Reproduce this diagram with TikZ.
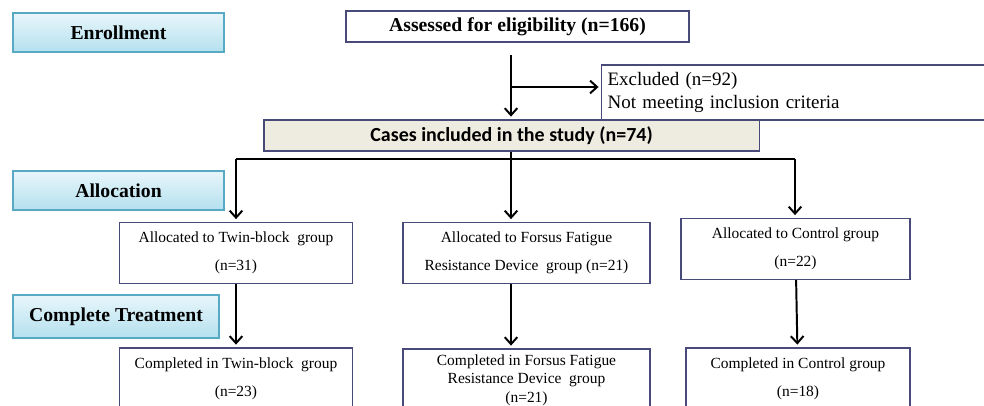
\documentclass[tikz,border=0pt]{standalone}
\usepackage{fontspec}
\setmainfont{Liberation Serif}
\newfontfamily\casesfont{Carlito}
\usepackage{tikz}
\usetikzlibrary{positioning, arrows.meta, shadows}
\usepackage{xcolor}
\definecolor{boxline}{RGB}{72,74,122}
\definecolor{phaseline}{RGB}{88,170,196}
\definecolor{phasetop}{RGB}{232,246,251}
\definecolor{phasebot}{RGB}{180,224,238}
\definecolor{casesfill}{RGB}{238,235,224}

\begin{document}
\begin{tikzpicture}[x=0.025cm, y=-0.025cm,
  phase/.style={draw=phaseline, line width=0.8pt, top color=phasetop, bottom color=phasebot,
    drop shadow={opacity=0.2, shadow xshift=0.8pt, shadow yshift=-0.8pt},
    font=\fontsize{14}{16}\selectfont\bfseries, inner sep=0pt},
  box/.style={draw=boxline, line width=0.8pt, fill=white, align=center, inner sep=2pt,
    font=\fontsize{11}{20}\selectfont},
  arr/.style={-{Straight Barb[length=5pt,width=9pt]}, line width=1.4pt, shorten >=2pt}]
\useasboundingbox (0,0) rectangle (984,406);
% phase labels
\node[phase, minimum width=5.275cm, minimum height=0.975cm] (enroll) at (118.5,32.5) {Enrollment};
\node[phase, minimum width=5.275cm, minimum height=0.975cm] (alloclab) at (118.5,190.5) {Allocation};
\node[phase, minimum width=5.15cm, minimum height=1.075cm] (complab) at (116,316.5) {Complete Treatment};
% enrollment
\node[box, font=\fontsize{14}{16}\selectfont\bfseries, minimum width=8.575cm, minimum height=0.775cm] (assess) at (517.5,26.5) {Assessed for eligibility (n=166)};
\node[box, align=left, inner xsep=4pt, text width=9.42cm, minimum height=1.375cm, font=\fontsize{13.5}{17}\selectfont] (excl) at (796,92.5) {Excluded (n=92)\\Not meeting inclusion criteria};
\node[box, fill=casesfill, font=\fontsize{14.2}{16}\casesfont\bfseries, minimum width=12.375cm, minimum height=0.775cm] (cases) at (511.5,135.5) {Cases included in the study (n=74)};
% allocation
\node[box, minimum width=5.825cm, minimum height=1.525cm] (alloc1) at (236,253) {Allocated to Twin-block~ group\\(n=31)};
\node[box, minimum width=6.175cm, minimum height=1.525cm] (alloc2) at (526.5,253) {Allocated to Forsus Fatigue\\Resistance Device~ group (n=21)};
\node[box, minimum width=5.725cm, minimum height=1.525cm] (alloc3) at (795.5,249) {Allocated to Control group\\(n=22)};
% complete treatment
\node[box, minimum width=5.825cm, minimum height=1.55cm] (comp1) at (236,379) {Completed in Twin-block~ group\\(n=23)};
\node[box, minimum width=6.175cm, minimum height=1.55cm, font=\fontsize{11}{13}\selectfont] (comp2) at (526.5,380) {Completed in Forsus Fatigue\\Resistance Device~ group\\(n=21)};
\node[box, minimum width=5.6cm, minimum height=1.55cm] (comp3) at (798,379) {Completed in Control group\\(n=18)};
% connectors
\coordinate (trunk) at (511,55);
\coordinate (split) at (511,87);
\coordinate (barL) at (236,159);
\coordinate (barM) at (511,159);
\coordinate (barR) at (795,159);
\draw[arr] (trunk) -- (cases.north -| trunk);
\draw[arr] (split) -- (excl.west |- split);
\draw[line width=1.4pt] (cases.south -| barM) -- (barM);
\draw[line width=1.4pt] (barL) -- (barR);
\draw[arr] (barL) -- (alloc1.north -| barL);
\draw[arr] (barM) -- (alloc2.north -| barM);
\draw[arr] (barR) -- (alloc3.north -| barR);
\draw[arr] (alloc1) -- (comp1);
\draw[arr] (alloc2.south -| barM) -- (comp2.north -| barM);
\draw[arr] (alloc3) -- (comp3);
\end{tikzpicture}
\end{document}
